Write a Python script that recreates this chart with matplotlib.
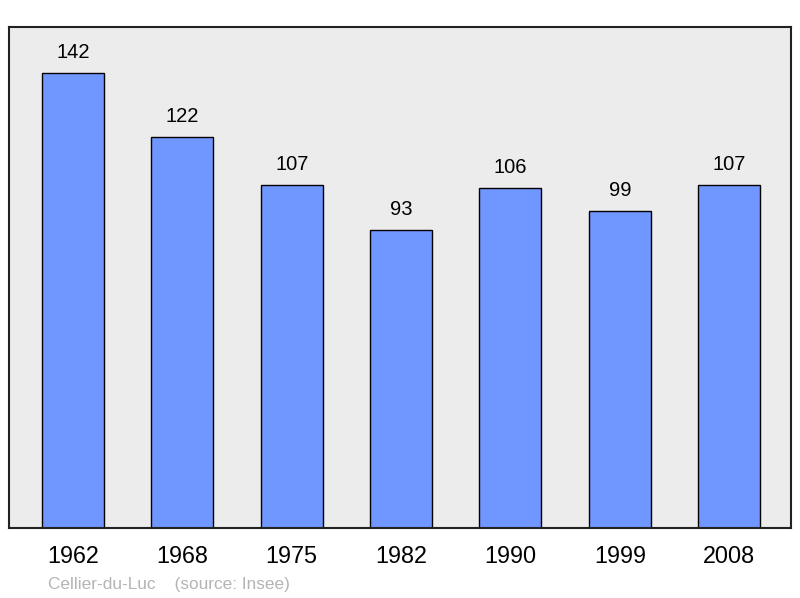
import matplotlib.pyplot as plt

years = ['1962', '1968', '1975', '1982', '1990', '1999', '2008']
population = [142, 122, 107, 93, 106, 99, 107]

plt.rcParams['font.family'] = ['Liberation Sans', 'DejaVu Sans']

fig = plt.figure(figsize=(8, 5.98), dpi=100)
# axes box in pixels: x 9..791, y 27..528 (from top)
ax = fig.add_axes([9 / 800, (598 - 528) / 598, 782 / 800, 501 / 598])
ax.set_facecolor('#ececec')

x = range(len(years))
ax.bar(x, population, width=0.567, color='#7097ff', edgecolor='black', linewidth=1.0, zorder=2)
for xi, v in zip(x, population):
    ax.annotate(str(v), (xi, v), xytext=(0, 8), textcoords='offset points',
                ha='center', va='bottom', fontsize=14.5)

ax.set_xlim(-0.585, 6.565)
ax.set_ylim(0, 156.4)
ax.set_yticks([])
ax.set_xticks(list(x))
ax.set_xticklabels(years, fontsize=16.8)
ax.tick_params(axis='x', length=0, pad=12)
for s in ax.spines.values():
    s.set_linewidth(1.5)
    s.set_color('#222222')

fig.text(48 / 800, 1 - 584 / 598, 'Cellier-du-Luc    (source: Insee)', color='#b4b4b4',
         fontsize=12.4, va='center', ha='left')

fig.savefig('out.png', dpi=100)
